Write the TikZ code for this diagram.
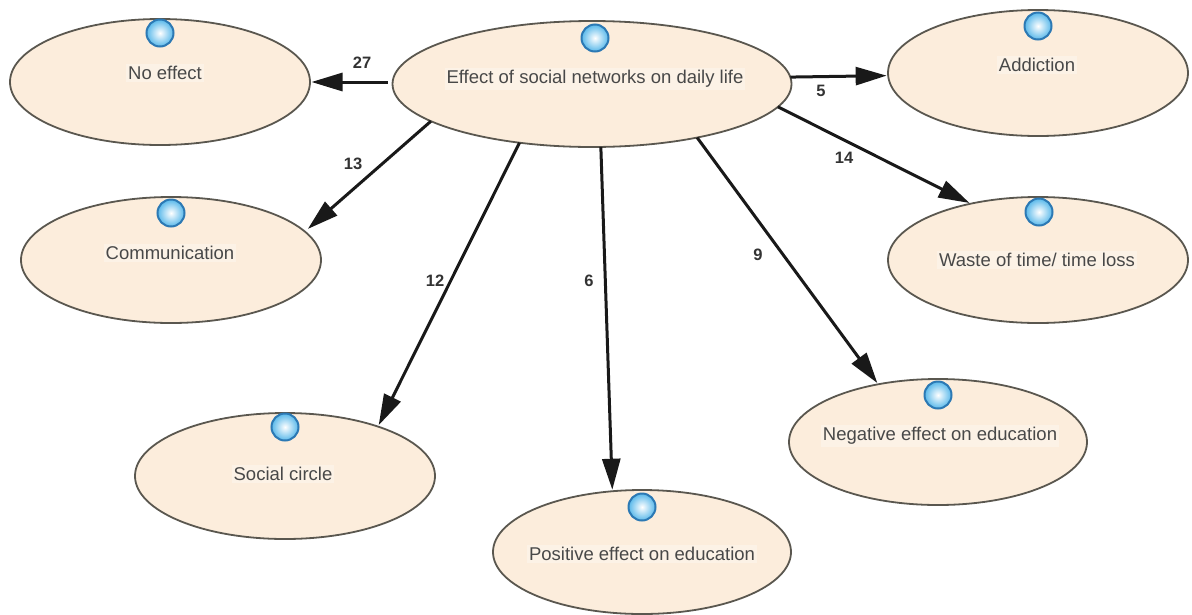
\documentclass[tikz,border=0pt]{standalone}
\usepackage{fontspec}
\setmainfont{Liberation Sans}
\usetikzlibrary{shapes.geometric,arrows.meta}
\definecolor{ellfill}{HTML}{FCEDDC}
\definecolor{ellline}{HTML}{5A574F}
\definecolor{txtgray}{HTML}{484848}
\definecolor{ballrim}{HTML}{2C79B4}
\definecolor{ballout}{HTML}{58B8EA}
\tikzset{
  bubble/.style={ellipse,draw=ellline,line width=1.8pt,fill=ellfill,inner sep=0pt,outer sep=0pt,minimum width=300pt,minimum height=126pt},
  caption/.style={fill=white,fill opacity=0.3,text opacity=1,text=txtgray,font=\fontsize{18.5}{22}\selectfont,inner sep=2pt},
  count/.style={text=black!80,font=\fontsize{16.5}{19}\selectfont\bfseries,inner sep=0pt},
  ball/.style={circle,draw=ballrim,line width=2pt,inner color=white,outer color=ballout,minimum size=27pt,inner sep=0pt},
  link/.style={draw=black!90,line width=3pt,shorten >=1.5pt,-{Triangle[length=31pt,width=18pt]}}
}
\begin{document}
\begin{tikzpicture}[x=1pt,y=-1pt]
  \useasboundingbox (0,0) rectangle (1192,614);
  % ellipses
  \node[bubble,minimum width=399pt] (effect) at (592,84) {};
  \node[bubble] (noeffect) at (160,82) {};
  \node[bubble] (addiction) at (1038,73) {};
  \node[bubble] (communication) at (171,260) {};
  \node[bubble] (waste) at (1038,260) {};
  \node[bubble] (social) at (285,476) {};
  \node[bubble,minimum width=298pt,minimum height=124pt] (positive) at (642,552) {};
  \node[bubble,minimum width=298pt] (negative) at (938,442) {};
  % balls
  \node[ball] (effectball) at (595,38) {};
  \node[ball] (noeffectball) at (160,33) {};
  \node[ball] (addictionball) at (1038,26) {};
  \node[ball] (communicationball) at (171,213) {};
  \node[ball] (wasteball) at (1039,212) {};
  \node[ball] (socialball) at (285,427) {};
  \node[ball] (positiveball) at (642,507) {};
  \node[ball] (negativeball) at (938,395) {};
  % captions
  \node[caption] (effecttxt) at (595,79) {Effect of social networks on daily life};
  \node[caption] (noeffecttxt) at (165,73) {No effect};
  \node[caption] (addictiontxt) at (1037,65) {Addiction};
  \node[caption] (communicationtxt) at (170,253) {Communication};
  \node[caption] (wastetxt) at (1037,260) {Waste of time/ time loss};
  \node[caption] (socialtxt) at (283,474) {Social circle};
  \node[caption] (positivetxt) at (642,554) {Positive effect on education};
  \node[caption] (negativetxt) at (940,436) {Negative effect on education};
  % links
  \draw[link] (effect.180) ++(-5,-2) coordinate (linkstart) (linkstart) -- (noeffect.0);
  \draw[link] (effect.2) -- (addiction.181);
  \draw[link] (effect.353) -- (waste.140);
  \draw[link,shorten >=4pt] (effect.193) -- (communication.12);
  \draw[link] (effect.219.7) -- (social.28);
  \draw[link] (effect.278) -- (positive.116);
  \draw[link] (effect.333) -- (negative.136);
  % counts
  \node[count] (c27) at (362,63) {27};
  \node[count] (c5) at (821,91) {5};
  \node[count] (c14) at (844,158) {14};
  \node[count] (c13) at (353,164) {13};
  \node[count] (c12) at (435,281) {12};
  \node[count] (c6) at (589,281) {6};
  \node[count] (c9) at (758,255) {9};
\end{tikzpicture}
\end{document}
